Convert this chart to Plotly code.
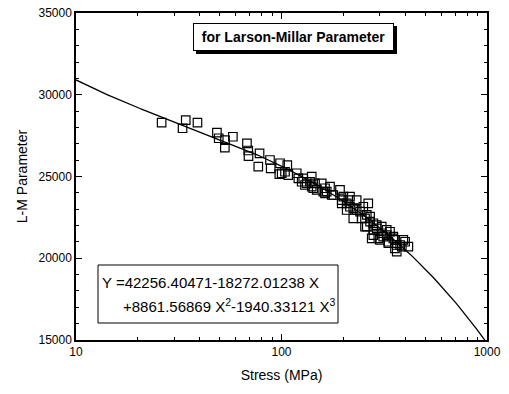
import numpy as np
import plotly.graph_objects as go

# Measured creep data: applied stress (MPa) and Larson-Miller parameter
stress = [26.1, 34.2, 33.0, 39.0, 48.5, 49.5, 53.1, 53.0, 58.0, 67.9,
          68.9, 69.1, 78.2, 77.1, 87.9, 88.6, 98.4, 100.2, 106.7, 107.9,
          97.6, 118.6, 127.6, 140.3, 130.1, 142.8, 157.0, 159.7, 172.2, 175.4,
          192.6, 196.4, 207.6, 215.4, 232.2, 223.5, 241.0, 245.5, 260.0, 269.8,
          254.9, 279.9, 290.6, 307.4, 295.8, 325.1, 331.1, 350.0, 356.6, 363.7,
          384.9, 399.3, 414.3, 274.8, 301.4, 325.1, 120.8, 132.6, 140.3, 145.6,
          148.4, 162.8, 166.0, 104.0, 125.4, 137.7, 199.9, 196.4, 211.5, 215.4,
          232.2, 250.0, 264.4, 162.8, 178.6, 207.6, 223.5, 254.9, 269.8, 279.9,
          260.0, 290.6, 307.4, 279.9, 312.7, 337.3, 350.0, 331.1, 363.7, 377.5,
          391.6, 356.6]
lm_param = [28290, 28450, 27950, 28290, 27680, 27340, 27230, 26770, 27430, 27030,
            26590, 26250, 26420, 25610, 26010, 25500, 25810, 25200, 25700, 25090,
            25150, 25200, 24890, 24990, 24480, 24280, 24580, 24070, 24380, 23870,
            24180, 23560, 23360, 23770, 23560, 23060, 22850, 22440, 22650, 22240,
            21930, 21730, 22030, 21530, 21220, 21420, 21010, 21320, 20610, 20400,
            20710, 21010, 20710, 21220, 21120, 21730, 24890, 24580, 24380, 24580,
            24180, 24280, 24070, 25290, 24680, 24680, 23770, 23360, 23560, 23150,
            22950, 23150, 23360, 23970, 23870, 22950, 22440, 22440, 22540, 22140,
            21930, 21830, 21930, 21420, 21320, 21620, 21220, 20920, 20810, 20810,
            21120, 21120]

# Cubic fit in X = log10(stress)
coef = [42256.40471, -18272.01238, 8861.56869, -1940.33121]
fit_stress = np.logspace(1, 3, 200)
X = np.log10(fit_stress)
fit_lm = coef[0] + coef[1] * X + coef[2] * X**2 + coef[3] * X**3

FONT = "Arial, Liberation Sans, sans-serif"

# Plot-area geometry in pixels, used to place the boxes
L, R, T, B = 76, 487, 13, 340
W, H = R - L, B - T


def px(x):
    return (x - L) / W


def py(y):
    return 1 - (y - T) / H


fig = go.Figure()
fig.add_trace(go.Scatter(
    x=fit_stress, y=fit_lm, mode="lines",
    line=dict(color="black", width=1.3), showlegend=False, hoverinfo="skip"))
fig.add_trace(go.Scatter(
    x=stress, y=lm_param, mode="markers",
    marker=dict(symbol="square-open", size=8.5, color="black",
                line=dict(width=1.2, color="black")),
    showlegend=False))

axis_common = dict(
    showline=True, linecolor="black", linewidth=1.5, mirror="allticks",
    ticks="inside", ticklen=6, tickwidth=1.2, tickcolor="black",
    showgrid=False, zeroline=False, automargin=False,
    tickfont=dict(family=FONT, size=12, color="black"),
)

fig.update_xaxes(
    type="log", range=[1, 3], dtick=1,
    tickvals=[10, 100, 1000], ticktext=["10", "100", "1000"],
    minor=dict(ticks="inside", ticklen=3, tickwidth=1, tickcolor="black",
               tickvals=[m * d for d in (10, 100) for m in range(2, 10)],
               showgrid=False),
    title=dict(text="Stress (MPa)", font=dict(family=FONT, size=14, color="black"),
               standoff=12),
    **axis_common)
fig.update_yaxes(
    range=[15000, 35000], dtick=5000, tickformat="d",
    minor=dict(ticks="inside", ticklen=3, tickwidth=1, tickcolor="black",
               dtick=1000, showgrid=False),
    title=dict(text="L-M Parameter", font=dict(family=FONT, size=14, color="black"),
               standoff=8),
    **axis_common)

# Label box with a drop shadow
fig.add_shape(type="rect", xref="paper", yref="paper",
              x0=px(196), x1=px(397), y0=py(54), y1=py(26),
              line=dict(width=0), fillcolor="black", layer="below")
fig.add_annotation(
    x=px(293.5), y=py(37), xref="paper", yref="paper",
    xanchor="center", yanchor="middle",
    text="<b>for Larson-Millar Parameter</b>", showarrow=False,
    font=dict(family=FONT, size=14, color="black"),
    bgcolor="white", bordercolor="black", borderwidth=1, borderpad=2,
    width=195, height=22)

# Equation box
fig.add_shape(type="rect", xref="paper", yref="paper",
              x0=px(98), x1=px(338), y0=py(323), y1=py(265),
              line=dict(color="black", width=1), fillcolor="white", layer="above")
fig.add_annotation(
    x=px(100), y=py(282), xref="paper", yref="paper",
    xanchor="left", yanchor="middle", showarrow=False,
    text="Y =42256.40471-18272.01238 X",
    font=dict(family=FONT, size=15, color="black"))
fig.add_annotation(
    x=px(121), y=py(305), xref="paper", yref="paper",
    xanchor="left", yanchor="middle", showarrow=False,
    text="+8861.56869 X<sup>2</sup>-1940.33121 X<sup>3</sup>",
    font=dict(family=FONT, size=15, color="black"))

fig.update_layout(
    width=509, height=394,
    margin=dict(l=L, r=509 - R, t=T, b=394 - B),
    paper_bgcolor="white", plot_bgcolor="white",
    font=dict(family=FONT, color="black"),
)

fig.write_html("out.html")
